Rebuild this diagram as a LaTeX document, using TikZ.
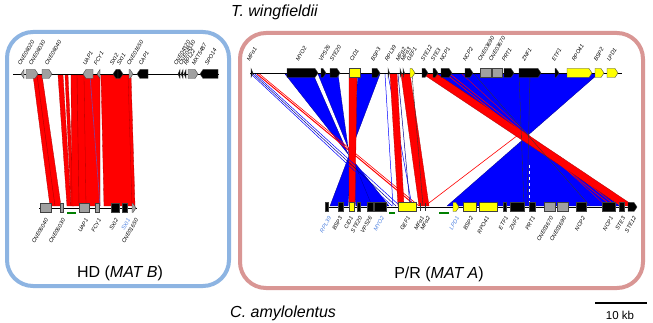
\documentclass[tikz,border=0pt]{standalone}
\usepackage{fontspec}
\setmainfont{Liberation Sans}
\definecolor{boxblue}{HTML}{8DB4E2}
\definecolor{boxred}{HTML}{D99694}
\definecolor{ribred}{HTML}{FF0000}
\definecolor{ribredE}{HTML}{B00000}
\definecolor{ribblue}{HTML}{0000FF}
\definecolor{ribblueE}{HTML}{000090}
\definecolor{genegray}{HTML}{A0A0A0}
\definecolor{geneyel}{HTML}{FFFF00}
\definecolor{labblue}{HTML}{4A7FE0}
\definecolor{bargreen}{HTML}{008000}
\definecolor{purp}{HTML}{8040A0}
\tikzset{
 genestyle/.style={draw=black!75, line width=0.35pt},
 lab/.style={font=\fontsize{5.6}{6}\selectfont\itshape, inner sep=0pt, rotate=60},
 toplab/.style={lab, anchor=south west},
 botlab/.style={lab, anchor=north east},
 redrib/.style={fill=ribred, draw=ribredE, line width=0.3pt},
 bluerib/.style={fill=ribblue, draw=ribblueE, line width=0.3pt},
 chrom/.style={line width=0.9pt, black},
 greenbar/.style={line width=2pt, bargreen},
 thinb/.style={draw=ribblue, line width=0.5pt},
 thinn/.style={draw=ribblueE, line width=0.5pt},
 thinr/.style={draw=ribred, line width=0.6pt},
 thindark/.style={draw=black!80, line width=0.35pt},
 panelbox/.style={line width=4pt, rounded corners=26pt},
 bigtext/.style={font=\fontsize{16}{19}\selectfont, inner sep=0pt},
}
\newcommand\geneR[4]{\filldraw[genestyle,fill=#4] (#1,#3-4.5) -- ({max(#1,#2-3)},#3-4.5) -- (#2,#3) -- ({max(#1,#2-3)},#3+4.5) -- (#1,#3+4.5) -- cycle;}
\newcommand\geneL[4]{\filldraw[genestyle,fill=#4] (#2,#3-4.5) -- ({min(#2,#1+3)},#3-4.5) -- (#1,#3) -- ({min(#2,#1+3)},#3+4.5) -- (#2,#3+4.5) -- cycle;}
\newcommand\geneB[4]{\filldraw[genestyle,fill=#4] (#1,#3-4.5) rectangle (#2,#3+4.5);}
\begin{document}
\begin{tikzpicture}[x=1pt,y=-1pt]
\useasboundingbox[fill=white] (0,0) rectangle (653,323);
% panel boxes
\draw[panelbox, boxblue] (7,32) rectangle (229,286);
\draw[panelbox, boxred] (240,33) rectangle (643,288);
% ---------------- left panel ribbons
\filldraw[redrib] (33,75) -- (42,75) -- (61,206) -- (50,206) -- cycle;
\draw[draw=ribredE, line width=0.4pt] (37,75) -- (55,206);
\filldraw[redrib] (58,75) -- (63,75) -- (71,206) -- (67,206) -- cycle;
\filldraw[redrib] (65,75) -- (68,75) -- (74,206) -- (71,206) -- cycle;
\filldraw[redrib] (71,75) -- (100,75) -- (100,206) -- (72,206) -- cycle;
\filldraw[redrib] (101,75) -- (130,75) -- (133,206) -- (104,206) -- cycle;
\filldraw[redrib] (128,75) -- (131,75) -- (135,206) -- (132,206) -- cycle;
\draw[draw=ribredE, line width=0.4pt] (77,75) -- (79,206);
\draw[draw=ribredE, line width=0.3pt] (84,75) -- (86,206);
\draw[draw=purp, line width=0.6pt] (90,75) -- (100,206);
% ---------------- left panel chromosomes
\draw[chrom] (13,74) -- (219,74);
\geneL{21}{24}{74}{genegray}
\geneR{26}{38}{74}{genegray}
\geneR{42}{52}{74}{genegray}
\geneL{83}{93}{74}{genegray}
\geneL{97}{100}{74}{genegray}
\geneL{113}{118}{74}{black}
\geneR{118}{123}{74}{black}
\geneR{129}{133}{74}{genegray}
\geneL{137}{148}{74}{black}
\geneL{178}{180}{74}{black}
\geneL{181}{183}{74}{black}
\geneL{184}{186}{74}{black}
\geneR{188}{198}{74}{genegray}
\geneL{200}{218}{74}{black}
\draw[chrom] (39,208) -- (137,208);
\geneB{40}{51}{208}{genegray}
\geneB{60}{63}{208}{genegray}
\draw[greenbar] (67,213.5) -- (76,213.5);
\geneB{79}{89}{208}{genegray}
\geneB{95}{99}{208}{genegray}
\geneB{111}{119}{208}{black}
\geneB{122}{127}{208}{black}
\geneR{132}{136}{208}{genegray}
% left labels
\foreach \x/\t [count=\i] in {21/CNE06020,32/CNE06030,48/CNE06040,86/UAP1,97/FCY1,113/SXI2,120/SXI1,130/CNE01650,142/CAP1,177/CNE04320,182/CNE04330,187/RPL22,195/MXT5487,208/SPO14}
  \node[toplab] (ltl\i) at (\x,66) {\t};
\foreach \x/\t/\c [count=\i] in {45/CNE06040/black,62/CNE06030/black,85/UAP1/black,98/FCY1/black,115/SXI2/black,127/SXI1/labblue,135/CNE01650/black}
  \node[botlab,text=\c] (lbl\i) at (\x,218) {\t};
% ---------------- right panel ribbons
\draw[thinr] (425,206) -- (598,74);
\filldraw[bluerib] (285,74) -- (313,74) -- (371,206) -- (389,206) -- cycle;
\filldraw[bluerib] (318,74) -- (338,74) -- (356,206) -- (372,206) -- cycle;
\filldraw[bluerib] (358,74) -- (380,74) -- (330,206) -- (348,206) -- cycle;
\filldraw[bluerib] (433,74) -- (598,74) -- (447,206) -- (620,206) -- cycle;
\filldraw[redrib] (349,74) -- (357,74) -- (355,206) -- (349,206) -- cycle;
\draw[thinb] (251,74) -- (392,206);
\draw[thinn] (253,74) -- (396,206);
\draw[thinb] (255,74) -- (400,206);
\draw[thinr, line width=1pt] (257,74) -- (416,206);
\draw[thinr] (259.5,74) -- (419,206);
\draw[thinb] (385,74) -- (393,206);
\draw[thinb] (388,74) -- (412,206);
\filldraw[redrib] (390,74) -- (397,74) -- (404,206) -- (398,206) -- cycle;
\filldraw[redrib] (401,74) -- (410,74) -- (429,206) -- (419,206) -- cycle;
\draw[thinn] (398,74) -- (410,206);
\draw[thindark] (412,74) -- (423,206);
\filldraw[redrib] (423,74) -- (437,74) -- (634,206) -- (621,206) -- cycle;
\draw[thinr] (446,74) -- (612,206);
\draw[thinr] (450,74) -- (616,206);
\draw[thinr, line width=0.35pt] (462,74) -- (606,206);
\draw[thindark] (474,74) -- (590,206);
\draw[thindark] (519,74) -- (524,206);
\draw[thindark] (530,74) -- (527,206);
\draw[white, dashed, line width=0.4pt] (529,165) -- (529,206);
% ---------------- right panel chromosomes
\draw[chrom] (250,73) -- (622,73);
\geneR{251}{253}{73}{black}
\geneR{287}{318}{73}{black}
\geneR{321}{326}{73}{black}
\geneR{330}{340}{73}{black}
\geneB{349}{360}{73}{geneyel}
\geneR{372}{380}{73}{black}
\geneR{388}{389.5}{73}{black}
\geneR{400}{401.5}{73}{black}
\geneR{403}{404.5}{73}{black}
\geneR{410}{415}{73}{geneyel}
\geneR{422}{428}{73}{black}
\geneR{433}{438}{73}{black}
\geneR{441}{452}{73}{black}
\geneR{465}{473}{73}{black}
\geneB{480}{491}{73}{genegray}
\geneB{492}{502}{73}{genegray}
\geneR{504}{514}{73}{black}
\geneR{519}{541}{73}{black}
\geneR{555}{559}{73}{black}
\geneR{567}{592}{73}{geneyel}
\geneR{595}{604}{73}{geneyel}
\geneR{607}{618}{73}{geneyel}
\draw[chrom] (325,207) -- (633,207);
\geneB{325}{328}{207}{black}
\geneB{338}{343}{207}{black}
\geneB{349}{354}{207}{geneyel}
\geneB{357}{360}{207}{black}
\geneB{367}{373}{207}{black}
\geneB{374}{386}{207}{black}
\draw[greenbar] (389,213.5) -- (395,213.5);
\geneB{398}{416}{207}{geneyel}
\draw[thindark, line width=0.6pt] (420,203) -- (420,211);
\draw[thindark, line width=0.6pt] (425,203) -- (425,211);
\draw[greenbar] (439,213.5) -- (449,213.5);
\geneR{453}{459}{207}{geneyel}
\geneB{463}{476}{207}{geneyel}
\geneB{479}{497}{207}{geneyel}
\geneB{503}{506}{207}{black}
\geneB{510}{524}{207}{black}
\geneB{529}{535}{207}{black}
\geneB{544}{555}{207}{genegray}
\geneB{557}{568}{207}{genegray}
\geneB{576}{586}{207}{black}
\geneB{602}{615}{207}{black}
\geneB{619}{624}{207}{black}
\geneR{628}{637}{207}{black}
% right labels
\foreach \x/\t [count=\i] in {250/MFα1,299/MYO2,322/VPS26,333/STE20,353/CID1,374/BSP3,388/RPL39,399/MFα2,404/MFα3,410/GEF1,424/STE12,434/STE3,443/NCP1,466/NCP2,481/CNE03690,492/CNE03670,505/PRT1,525/ZNF1,555/ETF1,575/RPO41,597/BSP2,610/LPD1}
  \node[toplab] (rtl\i) at (\x,62) {\t};
\foreach \x/\t/\c [count=\i] in {328/RPL39/labblue,339/BSP3/black,350/CID1/black,359/STE20/black,369/VPS26/black,381/MYO2/labblue,407/GEF1/black,421/MFα1/black,427/MFα2/black,456/LPD1/labblue,470/BSP2/black,486/RPO41/black,505/ETF1/black,516/ZNF1/black,532/PRT1/black,550/CNE03670/black,563/CNE03690/black,582/NCP2/black,610/NCP1/black,622/STE3/black,633/STE12/black}
  \node[botlab,text=\c] (rbl\i) at (\x,216) {\t};
% ---------------- titles
\node[bigtext, anchor=base west] (tw) at (231,17) {\itshape T. wingfieldii};
\node[bigtext, anchor=base west] (ca) at (230,317) {\itshape C. amylolentus};
\node[bigtext, anchor=base] (hd) at (120,277) {HD (\textit{MAT B})};
\node[bigtext, anchor=base] (pr) at (439,278) {P/R (\textit{MAT A})};
\coordinate (sbl) at (595,303);
\coordinate (sbr) at (647,303);
\draw[line width=1.5pt] (sbl) -- (sbr);
\node[font=\fontsize{11.5}{13}\selectfont, inner sep=0pt, anchor=base] (kb) at (620,319) {10 kb};
\end{tikzpicture}
\end{document}
